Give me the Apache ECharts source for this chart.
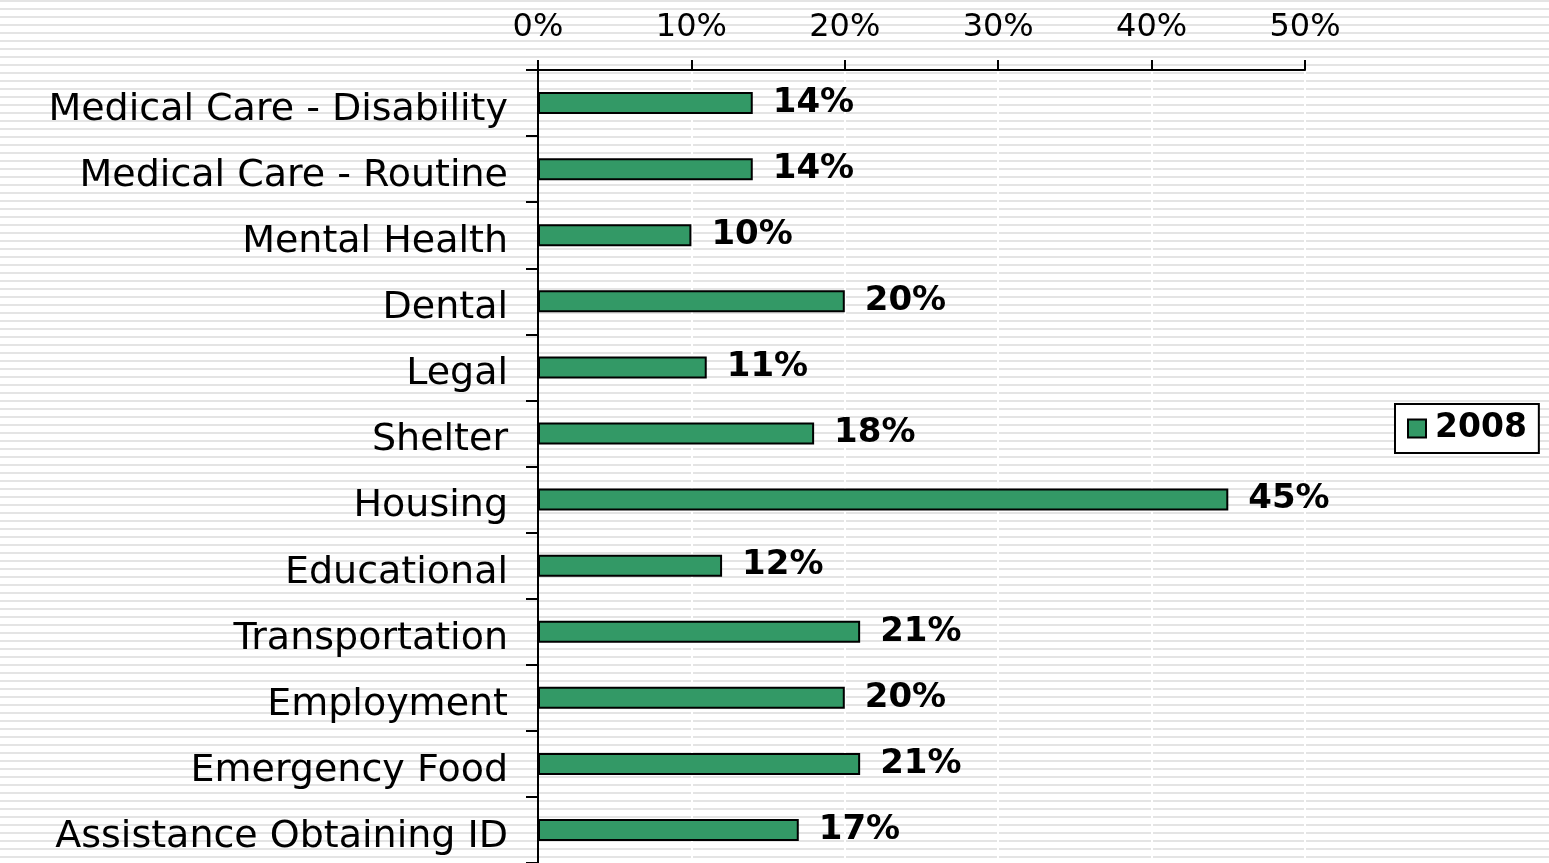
<!DOCTYPE html>
<html>
<head>
<meta charset="utf-8">
<script src="https://cdn.jsdelivr.net/npm/echarts@6/dist/echarts.min.js"></script>
<style>
  html, body {
    margin: 0;
    padding: 0;
    width: 1549px;
    height: 863px;
    overflow: hidden;
    background: repeating-linear-gradient(to bottom, #e4e4e4 0px, #e4e4e4 2px, #ffffff 2px, #ffffff 8px);
  }
  #chart { width: 1549px; height: 863px; }
</style>
</head>
<body>
<div id="chart"></div>
<script>
// categories top to bottom
const categories = [
  'Medical Care - Disability',
  'Medical Care - Routine',
  'Mental Health',
  'Dental',
  'Legal',
  'Shelter',
  'Housing',
  'Educational',
  'Transportation',
  'Employment',
  'Emergency Food',
  'Assistance Obtaining ID'
];
const seriesName = '2008';
const values = [14, 14, 10, 20, 11, 18, 45, 12, 21, 20, 21, 17];
const xTicks = { min: 0, max: 50, interval: 10 };

const font = 'DejaVu Sans';
const myChart = echarts.init(document.getElementById('chart'));

const option = {
  backgroundColor: 'transparent',
  animation: false,
  textStyle: { fontFamily: font, color: '#000' },
  grid: {
    left: 538,
    top: 70,
    width: 767,
    height: 797
  },
  legend: {
    data: [seriesName],
    left: 1395,
    top: 404,
    orient: 'vertical',
    padding: [8, 12, 8, 12],
    borderColor: '#000',
    borderWidth: 2,
    backgroundColor: '#fff',
    itemWidth: 18,
    itemHeight: 18,
    itemGap: 0,
    icon: 'rect',
    textStyle: {
      fontFamily: font,
      fontSize: 33,
      fontWeight: 'bold',
      color: '#000',
      padding: [0, 0, 0, 4]
    }
  },
  xAxis: {
    type: 'value',
    position: 'top',
    min: xTicks.min,
    max: xTicks.max,
    interval: xTicks.interval,
    axisLine: { show: true, lineStyle: { color: '#000', width: 2 } },
    axisTick: { show: true, length: 10, lineStyle: { color: '#000', width: 2 } },
    axisLabel: {
      formatter: '{value}%',
      fontFamily: font,
      fontSize: 32,
      color: '#000',
      margin: 26
    },
    splitLine: { show: true, lineStyle: { color: '#fff', width: 2 } }
  },
  yAxis: {
    type: 'category',
    inverse: true,
    data: categories,
    axisLine: { show: true, lineStyle: { color: '#000', width: 2 } },
    axisTick: { show: true, length: 12, lineStyle: { color: '#000', width: 2 } },
    axisLabel: {
      margin: 30,
      formatter: function (v) { return '{t|' + v + '}'; },
      rich: {
        t: {
          fontFamily: font,
          fontSize: 38,
          color: '#000',
          padding: [14, 0, 0, 0]
        }
      }
    }
  },
  series: [
    {
      name: seriesName,
      type: 'bar',
      data: values,
      barWidth: 22,
      itemStyle: {
        color: '#339966',
        borderColor: '#000',
        borderWidth: 2
      },
      label: {
        show: true,
        position: 'right',
        distance: 20,
        formatter: '{c}%',
        fontFamily: font,
        fontSize: 34,
        fontWeight: 'bold',
        color: '#000'
      }
    }
  ]
};
myChart.setOption(option);
</script>
</body>
</html>
